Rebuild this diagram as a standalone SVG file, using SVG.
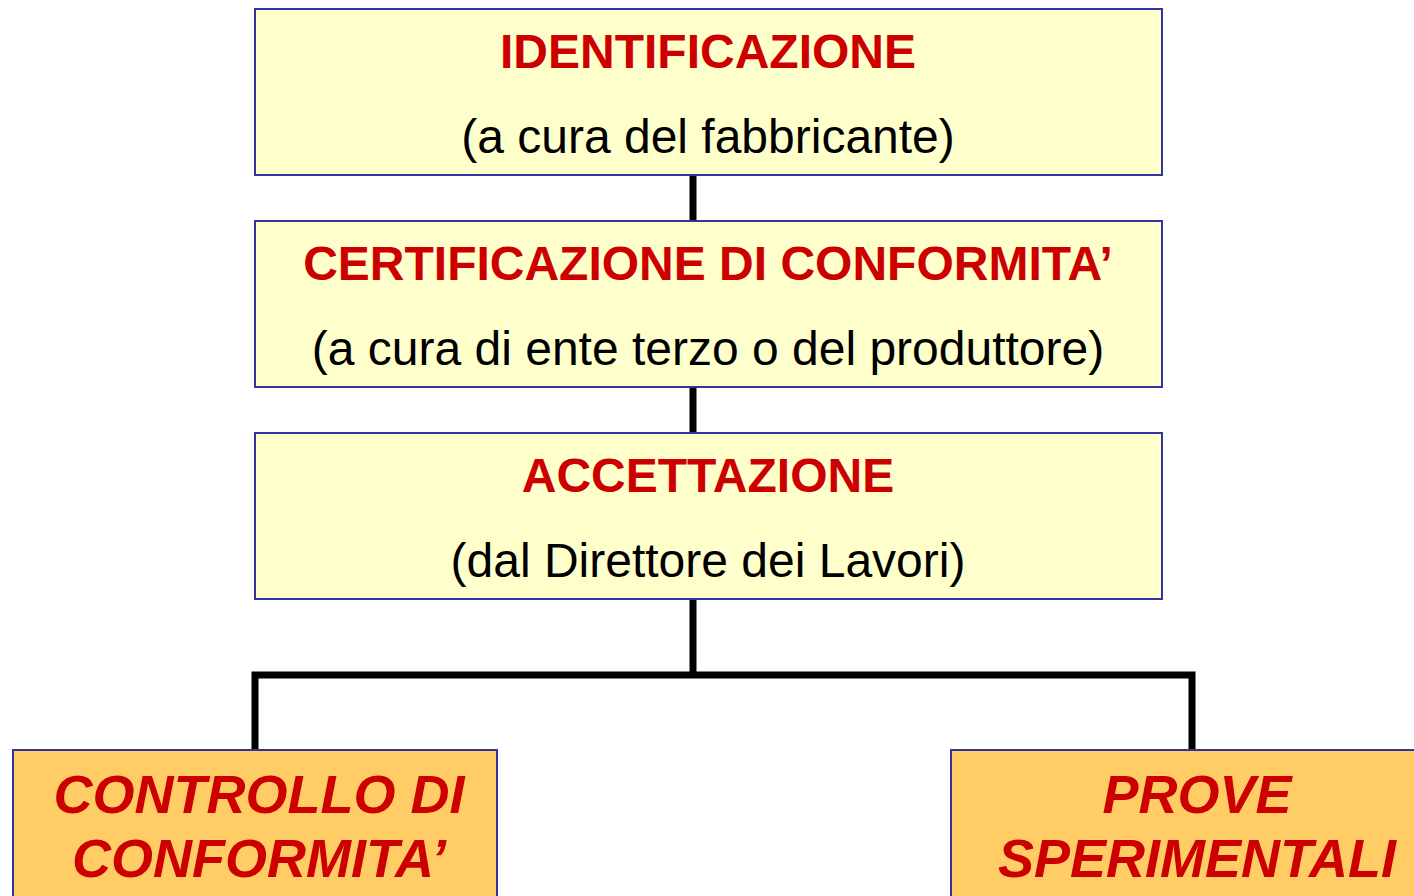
<svg xmlns="http://www.w3.org/2000/svg" width="1414" height="896" viewBox="0 0 1414 896">
<style>
.box{fill:#FFFFCC;stroke:#3333A0;stroke-width:2}
.obox{fill:#FFCC66;stroke:#3333A0;stroke-width:2}
.t{font-family:"Liberation Sans",Arial,sans-serif;font-weight:bold;font-size:48px;fill:#CC0000;text-anchor:middle}
.s{font-family:"Liberation Sans",Arial,sans-serif;font-size:48px;fill:#000000;text-anchor:middle}
.b{font-family:"Liberation Sans",Arial,sans-serif;font-weight:bold;font-style:italic;font-size:54px;fill:#CC0000;text-anchor:middle}
.c{fill:none;stroke:#000000;stroke-width:7}
</style>
<rect width="1414" height="896" fill="#FFFFFF"/>
<g id="connectors">
<line class="c" x1="693" y1="175" x2="693" y2="221"/>
<line class="c" x1="693" y1="387" x2="693" y2="433"/>
<line class="c" x1="693" y1="599" x2="693" y2="675"/>
<path class="c" d="M255 750 V675 H1192 V750"/>
</g>
<g id="identificazione">
<rect class="box" x="255" y="9" width="907" height="166"/>
<text class="t" x="708" y="68">IDENTIFICAZIONE</text>
<text class="s" x="708" y="153">(a cura del fabbricante)</text>
</g>
<g id="certificazione">
<rect class="box" x="255" y="221" width="907" height="166"/>
<text class="t" x="708" y="280">CERTIFICAZIONE DI CONFORMITA’</text>
<text class="s" x="708" y="365">(a cura di ente terzo o del produttore)</text>
</g>
<g id="accettazione">
<rect class="box" x="255" y="433" width="907" height="166"/>
<text class="t" x="708" y="492">ACCETTAZIONE</text>
<text class="s" x="708" y="577">(dal Direttore dei Lavori)</text>
</g>
<g id="controllo">
<rect class="obox" x="13" y="750" width="484" height="160"/>
<text class="b" x="259" y="813">CONTROLLO DI</text>
<text class="b" x="259" y="877">CONFORMITA’</text>
</g>
<g id="prove">
<rect class="obox" x="951" y="750" width="484" height="160"/>
<text class="b" x="1197" y="813">PROVE</text>
<text class="b" x="1197" y="877">SPERIMENTALI</text>
</g>
</svg>
